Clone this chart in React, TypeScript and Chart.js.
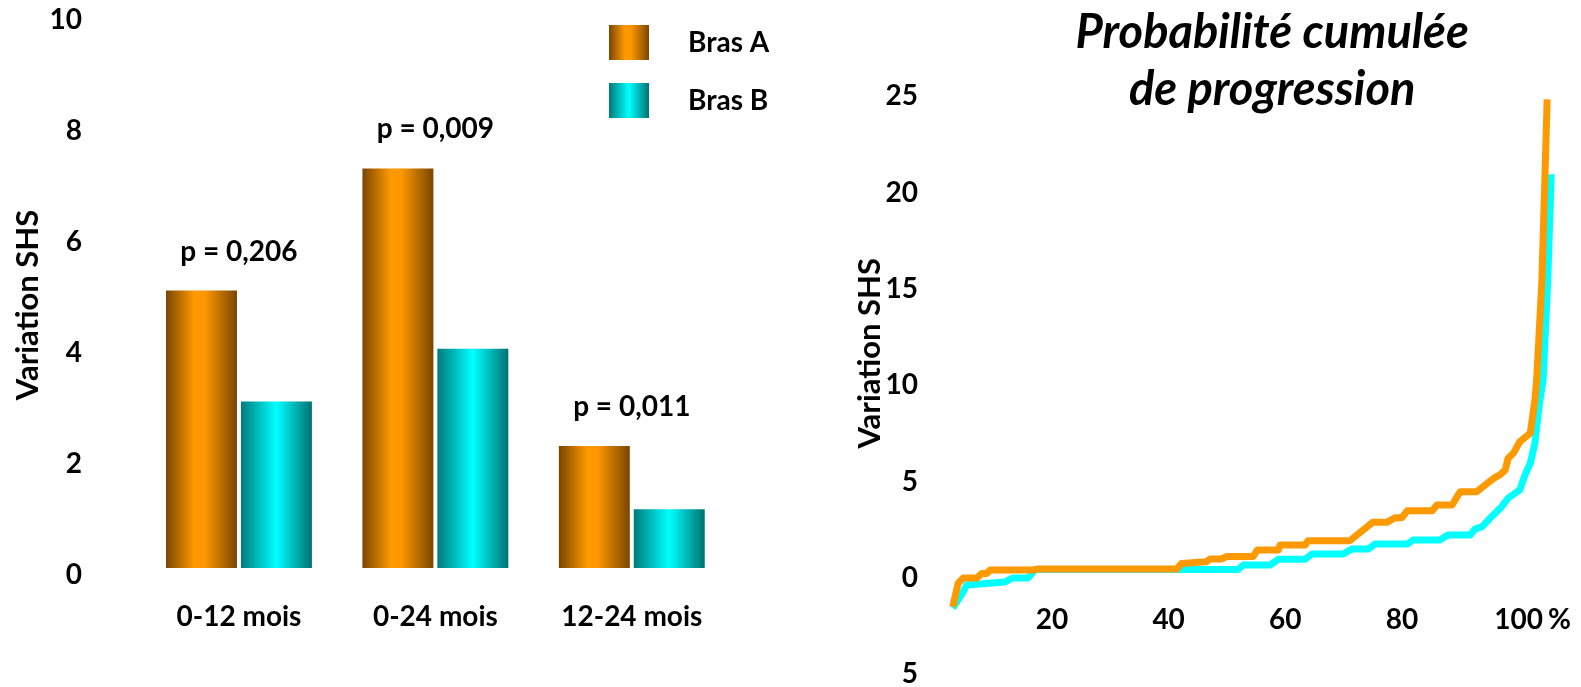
import React, { useEffect, useRef } from "react";
import { Chart, registerables } from "chart.js";

Chart.register(...registerables);

// ---------- data : left bar chart ----------
const CATEGORIES = ["0-12 mois", "0-24 mois", "12-24 mois"];
const SERIES_NAMES = ["Bras A", "Bras B"];
const BRAS_A = [5.0, 7.2, 2.2];
const BRAS_B = [3.0, 3.95, 1.06];
const P_VALUES = ["p = 0,206", "p = 0,009", "p = 0,011"];
const Y_TITLE = "Variation SHS";

// ---------- data : right cumulative curves ----------
const TITLE_RIGHT = ["Probabilité cumulée", "de progression"];
const CURVE_A_X = [3.0, 3.9, 4.8, 7.1, 8.0, 8.8, 9.4, 17.1, 17.4, 41.4, 42.2, 46.5, 47.1, 49.1, 50.0, 54.5, 55.2, 58.8, 59.1, 63.4, 63.9, 71.1, 75.0, 77.4, 78.8, 80.0, 80.9, 85.2, 86.0, 88.6, 90.0, 92.8, 95.7, 96.8, 97.7, 98.2, 99.1, 100.2, 102.0, 102.8, 103.1, 104.0, 104.5, 104.9];
const CURVE_A_Y = [-1.49, -0.28, 0, 0, 0.24, 0.24, 0.42, 0.42, 0.47, 0.47, 0.76, 0.85, 0.99, 0.99, 1.12, 1.12, 1.45, 1.45, 1.71, 1.71, 1.94, 1.94, 2.89, 2.89, 3.13, 3.13, 3.49, 3.49, 3.79, 3.79, 4.48, 4.48, 5.17, 5.35, 5.6, 6.21, 6.47, 7.07, 7.51, 9.24, 10.28, 15.46, 20.65, 24.84];
const CURVE_B_X = [3.0, 4.75, 5.4, 11.9, 13.2, 15.9, 17.1, 51.9, 52.8, 57.4, 58.8, 63.4, 64.6, 69.9, 71.4, 74.2, 75.4, 80.9, 81.9, 86.5, 87.9, 91.7, 92.5, 93.7, 95.1, 97.1, 98.2, 100.2, 101.1, 102.0, 102.8, 103.5, 104.2, 105.0, 105.6];
const CURVE_B_Y = [-1.56, -0.73, -0.36, -0.21, 0, 0, 0.44, 0.44, 0.67, 0.67, 0.97, 0.97, 1.25, 1.25, 1.5, 1.5, 1.76, 1.76, 1.97, 1.97, 2.23, 2.23, 2.54, 2.65, 3.1, 3.7, 4.14, 4.57, 5.35, 5.95, 6.99, 8.9, 10.28, 15.46, 20.95];
const X2_TICKS = [20, 40, 60, 80, 100];
const X2_UNIT = "%";

// ---------- styles ----------
const FAMILY = "Lato, 'Open Sans', sans-serif";
const FONT = { family: FAMILY, size: 28, weight: "bold" as const };
const Y_TITLE_SIZE = 31;
const ORANGE = "#FF9900";
const CYAN = "#00FFFF";
const STOPS: [number, string][][] = [
  [[0, "#7a4600"], [0.4, "#ff9900"], [0.55, "#fb9700"], [1, "#7a4600"]],
  [[0, "#007b7b"], [0.5, "#00ffff"], [1, "#007171"]],
];
const CAT_PCT = 0.763;
const BAR_PCT = 0.947;
const P_GAP = 39;
const PERCENT_TICK_AT = 107;

function gradient(ctx: CanvasRenderingContext2D, x0: number, x1: number, di: number) {
  const g = ctx.createLinearGradient(x0, 0, x1, 0);
  STOPS[di].forEach(([o, c]) => g.addColorStop(o, c));
  return g;
}

const barFill = (di: number) => (c: any) => {
  const chart = c.chart;
  const xs = chart.scales && chart.scales.x;
  if (c.type !== "data" || !xs || !chart.chartArea) return di === 0 ? ORANGE : CYAN;
  const n = chart.data.labels.length;
  const catW = (xs.right - xs.left) / n;
  const center = xs.getPixelForValue(c.dataIndex);
  const groupW = catW * CAT_PCT;
  const slot = groupW / 2;
  const barW = slot * BAR_PCT;
  const cx = center - groupW / 2 + slot * (di + 0.5);
  return gradient(chart.ctx, cx - barW / 2, cx + barW / 2, di);
};

const pLabelsPlugin = {
  id: "pLabels",
  afterDatasetsDraw(chart: any) {
    const { ctx } = chart;
    const xs = chart.scales.x;
    ctx.save();
    ctx.font = `bold 28px ${FAMILY}`;
    ctx.fillStyle = "#000";
    ctx.textAlign = "center";
    ctx.textBaseline = "middle";
    P_VALUES.forEach((txt, i) => {
      let top = Infinity;
      chart.data.datasets.forEach((_: any, di: number) => {
        const el = chart.getDatasetMeta(di).data[i];
        if (el) top = Math.min(top, el.y);
      });
      ctx.fillText(txt, xs.getPixelForValue(i), top - P_GAP);
    });
    ctx.restore();
  },
};

const boxLegendPlugin = {
  id: "boxLegend",
  afterDraw(chart: any) {
    const { ctx, chartArea } = chart;
    const x0 = chartArea.right - 121;
    const y0 = chartArea.top + 12;
    ctx.save();
    chart.data.datasets.forEach((ds: any, di: number) => {
      const y = y0 + di * 58;
      ctx.fillStyle = gradient(ctx, x0, x0 + 40, di);
      ctx.fillRect(x0, y, 40, 35);
      ctx.fillStyle = "#000";
      ctx.font = `bold 28px ${FAMILY}`;
      ctx.textAlign = "left";
      ctx.textBaseline = "middle";
      ctx.fillText(ds.label, x0 + 79, y + 17.5);
    });
    ctx.restore();
  },
};

// rotated y-axis title, placed from the y scale's left edge and the chart area's centre
const yTitlePlugin = {
  id: "yTitle",
  afterDraw(chart: any, _args: any, opts: any) {
    const { ctx, chartArea } = chart;
    const ys = chart.scales.y;
    ctx.save();
    ctx.translate(ys.left + opts.dx, (chartArea.top + chartArea.bottom) / 2 + opts.dy);
    ctx.rotate(-Math.PI / 2);
    ctx.font = `bold ${Y_TITLE_SIZE}px ${FAMILY}`;
    ctx.fillStyle = "#000";
    ctx.textAlign = "center";
    ctx.textBaseline = "middle";
    ctx.fillText(opts.text, 0, 0);
    ctx.restore();
  },
};

export default function App() {
  const leftRef = useRef<HTMLCanvasElement>(null);
  const rightRef = useRef<HTMLCanvasElement>(null);

  useEffect(() => {
    const noGrid = { display: false, drawTicks: false };
    const noBorder = { display: false };

    const left = new Chart(leftRef.current as HTMLCanvasElement, {
      type: "bar",
      data: {
        labels: CATEGORIES,
        datasets: [
          { label: SERIES_NAMES[0], data: BRAS_A, backgroundColor: barFill(0) as any, borderWidth: 0, categoryPercentage: CAT_PCT, barPercentage: BAR_PCT },
          { label: SERIES_NAMES[1], data: BRAS_B, backgroundColor: barFill(1) as any, borderWidth: 0, categoryPercentage: CAT_PCT, barPercentage: BAR_PCT },
        ],
      },
      options: {
        responsive: false,
        animation: false,
        layout: { padding: { left: 4, right: 70, top: 17, bottom: 8 } },
        plugins: {
          legend: { display: false },
          tooltip: { enabled: false },
          yTitle: { text: Y_TITLE, dx: 24, dy: 14.5 },
        },
        scales: {
          x: {
            grid: noGrid,
            border: noBorder,
            ticks: { color: "#000", font: FONT, padding: 32, maxRotation: 0 },
            afterFit: (s: any) => { s.height = 80; },
          },
          y: {
            min: 0,
            max: 10,
            grid: noGrid,
            border: noBorder,
            ticks: { stepSize: 2, color: "#000", font: FONT, padding: 58.75, labelOffset: 7 },
            afterFit: (s: any) => { s.width = 136.75; s.paddingTop = 0; s.paddingBottom = 0; },
          },
        },
      } as any,
      plugins: [pLabelsPlugin, boxLegendPlugin, yTitlePlugin],
    });

    const ptsA = CURVE_A_X.map((x, i) => ({ x, y: CURVE_A_Y[i] }));
    const ptsB = CURVE_B_X.map((x, i) => ({ x, y: CURVE_B_Y[i] }));

    const right = new Chart(rightRef.current as HTMLCanvasElement, {
      type: "line",
      data: {
        datasets: [
          { label: SERIES_NAMES[0], data: ptsA, borderColor: ORANGE, backgroundColor: ORANGE, borderWidth: 7, pointRadius: 0, tension: 0, fill: false, borderJoinStyle: "round" },
          { label: SERIES_NAMES[1], data: ptsB, borderColor: CYAN, backgroundColor: CYAN, borderWidth: 7, pointRadius: 0, tension: 0, fill: false, borderJoinStyle: "round" },
        ],
      },
      options: {
        responsive: false,
        animation: false,
        layout: { padding: { left: 4, right: 0, top: 0, bottom: 16.6 } },
        plugins: {
          legend: { display: false },
          tooltip: { enabled: false },
          yTitle: { text: Y_TITLE, dx: 21, dy: -32 },
          title: {
            display: true,
            text: TITLE_RIGHT,
            color: "#000",
            fullSize: false,
            font: { family: FAMILY, size: 47, weight: "bold", style: "italic", lineHeight: 57 / 47 },
            padding: { top: 4.5, bottom: -22.3 },
          },
        },
        scales: {
          x: {
            type: "linear",
            position: { y: 0 },
            min: 0,
            max: 115.5,
            grid: noGrid,
            border: noBorder,
            afterBuildTicks: (s: any) => {
              s.ticks = X2_TICKS.map((v) => ({ value: v })).concat([{ value: PERCENT_TICK_AT }]);
            },
            ticks: {
              color: "#000",
              font: FONT,
              padding: 25.2,
              autoSkip: false,
              maxRotation: 0,
              callback: (_v: any, i: number) => (i < X2_TICKS.length ? String(X2_TICKS[i]) : X2_UNIT),
            },
          },
          y: {
            type: "linear",
            min: -5,
            max: 25,
            grid: noGrid,
            border: noBorder,
            ticks: { stepSize: 5, color: "#000", font: FONT, padding: 17.3, callback: (v: any) => String(Math.abs(Number(v))) },
            afterFit: (s: any) => { s.width = 86.3; s.paddingTop = 0; s.paddingBottom = 0; },
          },
        },
      } as any,
      plugins: [yTitlePlugin],
    });

    return () => {
      left.destroy();
      right.destroy();
    };
  }, []);

  return (
    <div style={{ position: "fixed", left: 0, top: 0, width: 1581, height: 687, overflow: "hidden", background: "#fff" }}>
      <canvas ref={leftRef} width={800} height={660} style={{ position: "absolute", left: 0, top: -4, width: 800, height: 660 }} />
      <canvas ref={rightRef} width={764} height={691} style={{ position: "absolute", left: 845, top: 0, width: 764, height: 691 }} />
    </div>
  );
}
